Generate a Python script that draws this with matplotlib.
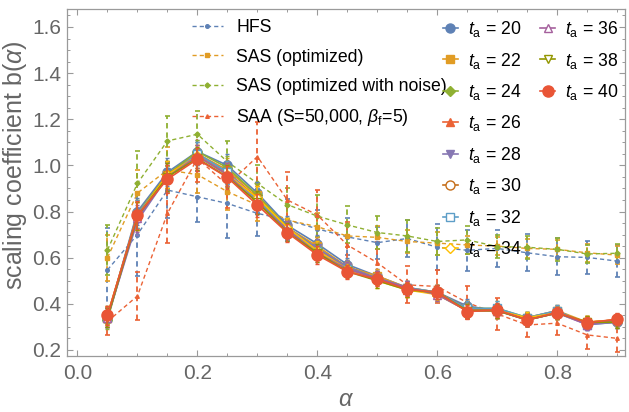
import matplotlib
matplotlib.use('Agg')
import matplotlib.pyplot as plt
from matplotlib.lines import Line2D
from matplotlib.ticker import MultipleLocator

plt.rcParams['font.family'] = ['Liberation Sans', 'DejaVu Sans']
plt.rcParams['mathtext.fontset'] = 'custom'
plt.rcParams['mathtext.rm'] = 'Liberation Sans'
plt.rcParams['mathtext.it'] = 'Liberation Sans:italic'

# ---- data ----
alpha = [0.05, 0.10, 0.15, 0.20, 0.25, 0.30, 0.35, 0.40, 0.45,
         0.50, 0.55, 0.60, 0.65, 0.70, 0.75, 0.80, 0.85, 0.90]

hfs     = [0.547, 0.700, 0.893, 0.864, 0.835, 0.792, 0.763, 0.725, 0.690, 0.665,
           0.683, 0.645, 0.632, 0.640, 0.621, 0.604, 0.601, 0.585]
hfs_err = [0.18, 0.18, 0.12, 0.11, 0.15, 0.10, 0.09, 0.08, 0.08, 0.07,
           0.08, 0.10, 0.09, 0.08, 0.08, 0.08, 0.07, 0.07]

sas     = [0.600, 0.880, 0.980, 0.960, 0.886, 0.828, 0.763, 0.734, 0.694, 0.688,
           0.670, 0.663, 0.655, 0.650, 0.640, 0.636, 0.621, 0.611]
sas_err = [0.10, 0.10, 0.10, 0.08, 0.08, 0.07, 0.06, 0.06, 0.05, 0.05,
           0.05, 0.05, 0.04, 0.04, 0.04, 0.04, 0.04, 0.04]

sasn     = [0.633, 0.922, 1.106, 1.135, 1.016, 0.922, 0.830, 0.780, 0.742, 0.709,
            0.694, 0.670, 0.677, 0.648, 0.645, 0.636, 0.616, 0.619]
sasn_err = [0.11, 0.14, 0.11, 0.10, 0.09, 0.08, 0.07, 0.09, 0.08, 0.07,
            0.07, 0.06, 0.06, 0.05, 0.05, 0.05, 0.04, 0.04]

saa     = [0.323, 0.434, 0.792, 1.030, 0.915, 1.038, 0.850, 0.785, 0.655, 0.578,
           0.482, 0.475, 0.405, 0.356, 0.308, 0.316, 0.265, 0.250]
saa_err = [0.06, 0.105, 0.13, 0.10, 0.10, 0.15, 0.12, 0.11, 0.10, 0.09,
           0.08, 0.07, 0.07, 0.07, 0.05, 0.05, 0.06, 0.06]

ta_labels = [20, 22, 24, 26, 28, 30, 32, 34, 36, 38, 40]
ta_vals = [
    [0.34, 0.80, 0.97, 1.06, 1.00, 0.88, 0.74, 0.66, 0.57, 0.52, 0.47, 0.45, 0.39, 0.37, 0.34, 0.37, 0.31, 0.32],
    [0.34, 0.79, 0.96, 1.05, 0.98, 0.87, 0.73, 0.65, 0.56, 0.52, 0.47, 0.45, 0.38, 0.37, 0.34, 0.37, 0.32, 0.33],
    [0.33, 0.79, 0.96, 1.06, 0.99, 0.87, 0.73, 0.64, 0.56, 0.51, 0.47, 0.44, 0.38, 0.38, 0.34, 0.36, 0.32, 0.32],
    [0.34, 0.78, 0.95, 1.04, 0.97, 0.86, 0.72, 0.64, 0.55, 0.51, 0.46, 0.45, 0.38, 0.37, 0.33, 0.36, 0.32, 0.33],
    [0.34, 0.76, 0.95, 1.05, 0.97, 0.85, 0.73, 0.64, 0.56, 0.51, 0.47, 0.44, 0.37, 0.37, 0.33, 0.36, 0.31, 0.32],
    [0.35, 0.78, 0.96, 1.04, 0.96, 0.86, 0.72, 0.63, 0.55, 0.51, 0.46, 0.45, 0.38, 0.37, 0.34, 0.36, 0.32, 0.33],
    [0.34, 0.79, 0.95, 1.05, 0.97, 0.85, 0.72, 0.63, 0.55, 0.51, 0.47, 0.45, 0.38, 0.38, 0.34, 0.37, 0.31, 0.33],
    [0.35, 0.78, 0.96, 1.04, 0.96, 0.86, 0.73, 0.63, 0.55, 0.50, 0.46, 0.44, 0.37, 0.37, 0.34, 0.36, 0.32, 0.33],
    [0.34, 0.77, 0.95, 1.04, 0.96, 0.84, 0.72, 0.62, 0.55, 0.51, 0.47, 0.44, 0.37, 0.37, 0.33, 0.36, 0.31, 0.33],
    [0.34, 0.78, 0.95, 1.03, 0.95, 0.84, 0.71, 0.62, 0.54, 0.50, 0.46, 0.45, 0.37, 0.37, 0.33, 0.36, 0.32, 0.32],
    [0.35, 0.785, 0.94, 1.027, 0.948, 0.828, 0.708, 0.612, 0.539, 0.506, 0.463, 0.45, 0.366, 0.373, 0.33, 0.362, 0.318, 0.333],
]
ta_err = [0.04, 0.06, 0.06, 0.05, 0.05, 0.05, 0.04, 0.04, 0.03,
          0.03, 0.03, 0.03, 0.03, 0.03, 0.025, 0.025, 0.025, 0.025]

# ---- style ----
pal = ['#5E81B5', '#E19C24', '#8FB032', '#EB6235', '#8778B3', '#C56E1A',
       '#5D9EC7', '#FFBF00', '#A5609D', '#929600', '#E95536']
ta_markers = ['o', 's', 'D', '^', 'v', 'o', 's', 'D', '^', 'v', 'o']
ta_open = [False, False, False, False, False, True, True, True, True, True, False]
ta_msize = [6.5, 5.5, 5, 6, 6, 6.5, 5.5, 5, 6, 6, 8]

fig = plt.figure(figsize=(6.29, 4.12), dpi=100)
ax = fig.add_axes([0.106, 0.1367, 0.8876, 0.8415])

dashed = [
    ('HFS', hfs, hfs_err, pal[0], 'o'),
    ('SAS (optimized)', sas, sas_err, pal[1], 's'),
    ('SAS (optimized with noise)', sasn, sasn_err, pal[2], 'D'),
    (r'SAA (S=50,000, $\beta_\mathrm{f}$=5)', saa, saa_err, pal[3], '^'),
]
dash_handles = []
for name, y, e, c, m in dashed:
    ln, caps, bars = ax.errorbar(alpha, y, yerr=e, color=c, lw=1.0, marker=m, ms=2.6,
                                 capsize=1.8, capthick=1.2, elinewidth=1.3, zorder=2)
    ln.set_dashes([3, 2.2])
    bars[0].set_linestyle((0, (3, 2.2)))
    dash_handles.append(Line2D([], [], color=c, lw=1.0, dashes=[3, 2.2], marker=m, ms=2.6, label=name))

ta_handles = []
for i, t in enumerate(ta_labels):
    c = pal[i]
    mfc = 'white' if ta_open[i] else c
    ax.errorbar(alpha, ta_vals[i], yerr=ta_err, color=c, lw=1.2, marker=ta_markers[i],
                ms=ta_msize[i], mfc=mfc, mec=c, mew=1.0, capsize=1.6, capthick=1.0,
                elinewidth=1.1, zorder=3 + i * 0.1)
    ta_handles.append(Line2D([], [], color=c, lw=1.2, marker=ta_markers[i], ms=ta_msize[i],
                             mfc=mfc, mec=c, mew=1.0, label=r'$t_\mathrm{a}$ = %d' % t))

ax.set_xlim(-0.018, 0.913)
ax.set_ylim(0.175, 1.678)
ax.set_xticks([0.0, 0.2, 0.4, 0.6, 0.8])
ax.set_yticks([0.2, 0.4, 0.6, 0.8, 1.0, 1.2, 1.4, 1.6])
ax.xaxis.set_minor_locator(MultipleLocator(0.05))
ax.yaxis.set_minor_locator(MultipleLocator(0.05))
ax.xaxis.set_major_formatter(plt.FormatStrFormatter('%.1f'))
ax.yaxis.set_major_formatter(plt.FormatStrFormatter('%.1f'))

frame_c = '#9a9a9a'
for s in ax.spines.values():
    s.set_color(frame_c)
    s.set_linewidth(0.9)
ax.tick_params(which='both', direction='in', top=True, right=True, color=frame_c,
               labelcolor='#666666', labelsize=15)
ax.tick_params(which='major', length=4, width=0.8, pad=4)
ax.tick_params(which='minor', length=2.5, width=0.7)
ax.tick_params(axis='x', which='major', pad=6)

ax.set_ylabel(r'scaling coefficient b($\alpha$)', fontsize=18, color='#666666')
ax.yaxis.set_label_coords(-0.068, 0.55)
ax.set_xlabel(r'$\alpha$', fontsize=17, color='#666666')

leg1 = ax.legend(handles=dash_handles, loc='upper left', bbox_to_anchor=(0.2244, 0.970),
                 frameon=False, fontsize=12.7, handlelength=1.76, handletextpad=0.74,
                 labelspacing=0.69, borderpad=0, borderaxespad=0)
ax.add_artist(leg1)
leg2 = ax.legend(handles=ta_handles[:8], loc='upper left', bbox_to_anchor=(0.674, 0.971),
                 frameon=False, fontsize=12.7, handlelength=0.85, handletextpad=0.57,
                 labelspacing=0.65, borderpad=0, borderaxespad=0)
ax.add_artist(leg2)
leg3 = ax.legend(handles=ta_handles[8:], loc='upper left', bbox_to_anchor=(0.848, 0.971),
                 frameon=False, fontsize=12.7, handlelength=0.85, handletextpad=0.57,
                 labelspacing=0.65, borderpad=0, borderaxespad=0)
for lg in (leg1, leg2, leg3):
    for tx in lg.get_texts():
        tx.set_color('black')

fig.savefig('out.png', dpi=100)
